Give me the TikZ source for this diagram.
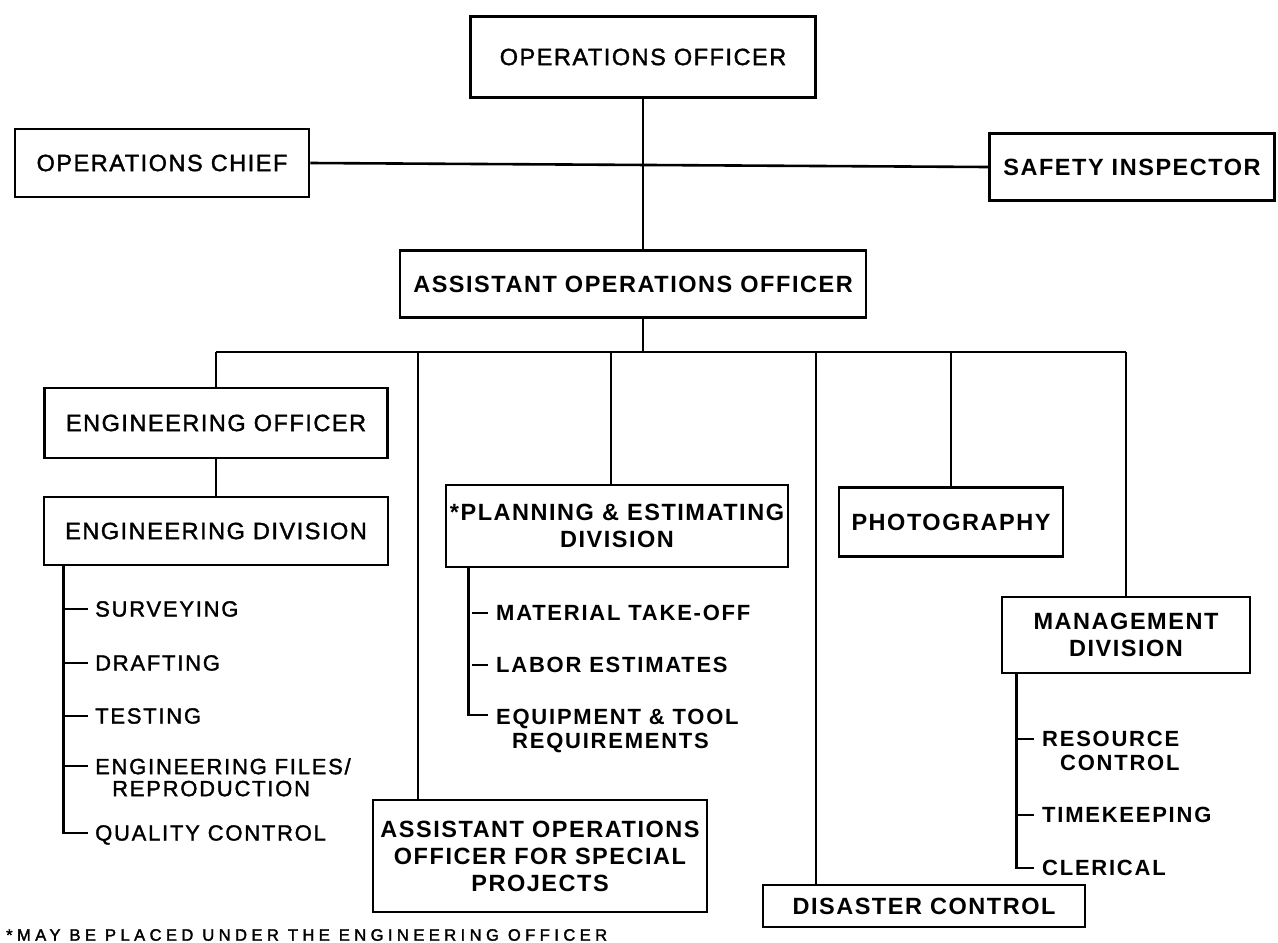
\documentclass[tikz,border=0pt]{standalone}
\usepackage{fontspec}
\setmainfont{Liberation Sans}
\newfontfamily\boxfont[LetterSpace=6.5]{Liberation Sans}
\newfontfamily\medfont[LetterSpace=6.5,FakeBold=1.6]{Liberation Sans}
\newfontfamily\listfont[LetterSpace=8]{Liberation Sans}
\newfontfamily\medlistfont[LetterSpace=8,FakeBold=1.6]{Liberation Sans}
\newfontfamily\notefont[LetterSpace=27,FakeBold=2]{Liberation Sans}
\usetikzlibrary{calc,positioning}

\begin{document}
\begin{tikzpicture}[x=1pt,y=-1pt,
  box/.style={draw,line width=2.8pt,inner sep=4pt,align=center,font=\boxfont\bfseries\fontsize{23.5}{27}\selectfont},
  thinbox/.style={box,font=\medfont\fontsize{23.5}{27}\selectfont},
  item/.style={anchor=north west,inner sep=0pt,align=left,font=\listfont\bfseries\fontsize{22}{24}\selectfont},
  thinitem/.style={item,font=\medlistfont\fontsize{22}{22}\selectfont},
  link/.style={line width=2.6pt}]
  \useasboundingbox (0,0) rectangle (1278,943);

  % top of the chart
  \node[thinbox,minimum width=345pt,minimum height=81pt] (oo) at (643,57) {OPERATIONS OFFICER};
  \node[thinbox,minimum width=294pt,minimum height=68pt] (oc) at (162,163) {OPERATIONS CHIEF};
  \node[box,minimum width=285pt,minimum height=67pt] (si) at (1132,167) {SAFETY INSPECTOR};
  \node[box,minimum width=466pt,minimum height=67pt] (ao) at (633,284) {ASSISTANT OPERATIONS OFFICER};

  % divisions
  \node[thinbox,minimum width=343pt,minimum height=70pt] (eo) at (216,423) {ENGINEERING OFFICER};
  \node[thinbox,minimum width=344pt,minimum height=68pt] (ed) at (216,531) {ENGINEERING DIVISION};
  \node[box,minimum width=339pt,minimum height=82pt] (pe) at (617,526) {*PLANNING \& ESTIMATING\\DIVISION};
  \node[box,minimum width=224pt,minimum height=69pt] (ph) at (951,522) {PHOTOGRAPHY};
  \node[box,minimum width=248pt,minimum height=76pt] (md) at (1126,635) {MANAGEMENT\\DIVISION};
  \node[box,minimum width=334pt,minimum height=112pt] (as) at (540,856) {ASSISTANT OPERATIONS\\OFFICER FOR SPECIAL\\PROJECTS};
  \node[box,minimum width=322pt,minimum height=42pt] (dc) at (924,906) {DISASTER CONTROL};

  % sections
  \node[thinitem] (e1) at (95,601) {SURVEYING};
  \node[thinitem] (e2) at (95,655) {DRAFTING};
  \node[thinitem] (e3) at (95,708) {TESTING};
  \node[thinitem] (e4) at (95,758) {ENGINEERING FILES/\\\hspace*{17pt}REPRODUCTION};
  \node[thinitem] (e5) at (95,825) {QUALITY CONTROL};
  \node[item] (p1) at (496,605) {MATERIAL TAKE-OFF};
  \node[item] (p2) at (496,657) {LABOR ESTIMATES};
  \node[item] (p3) at (496,709) {EQUIPMENT \& TOOL\\\hspace*{16pt}REQUIREMENTS};
  \node[item] (m1) at (1042,731) {RESOURCE\\\hspace*{18pt}CONTROL};
  \node[item] (m2) at (1042,807) {TIMEKEEPING};
  \node[item] (m3) at (1042,860) {CLERICAL};

  \node[anchor=west,inner sep=0pt,font=\notefont\fontsize{16.5}{18}\selectfont] (fn) at (6,935) {*MAY BE PLACED UNDER THE ENGINEERING OFFICER};

  % lines
  \coordinate (bl) at (216,352);
  \coordinate (br) at (1126,352);
  \coordinate (d1) at (611,352);
  \coordinate (d2) at (418,352);
  \coordinate (d3) at (816,352);
  \draw[link] (oc.east) -- (si.west);
  \draw[link] (oo.south) -- (oo.south |- ao.north);
  \draw[link] (oo.south |- ao.south) -- (oo.south |- bl);
  \draw[link] (bl) -- (br);
  \draw[link] (bl) -- (eo.north);
  \draw[link] (eo) -- (ed);
  \draw[link] (d1) -- (d1 |- pe.north);
  \draw[link] (d2) -- (d2 |- as.north);
  \draw[link] (d3) -- (d3 |- dc.north);
  \draw[link] (ph.north |- bl) -- (ph.north);
  \draw[link] (br) -- (md.north);

  \draw[link] ([xshift=21pt]ed.south west) |- ([xshift=-7pt,yshift=-8pt]e5.north west);
  \foreach \n in {e1,e2,e3,e4}
    \draw[link] ([xshift=-31pt,yshift=-8pt]\n.north west) -- ++(24,0);
  \draw[link] ([xshift=24pt]pe.south west) |- ([xshift=-8pt,yshift=-6pt]p3.north west);
  \foreach \n in {p1,p2}
    \draw[link] ([xshift=-24pt,yshift=-8pt]\n.north west) -- ++(16,0);
  \draw[link] ([xshift=16pt]md.south west) |- ([xshift=-8pt,yshift=-8pt]m3.north west);
  \foreach \n in {m1,m2}
    \draw[link] ([xshift=-25pt,yshift=-8pt]\n.north west) -- ++(17,0);
\end{tikzpicture}
\end{document}
